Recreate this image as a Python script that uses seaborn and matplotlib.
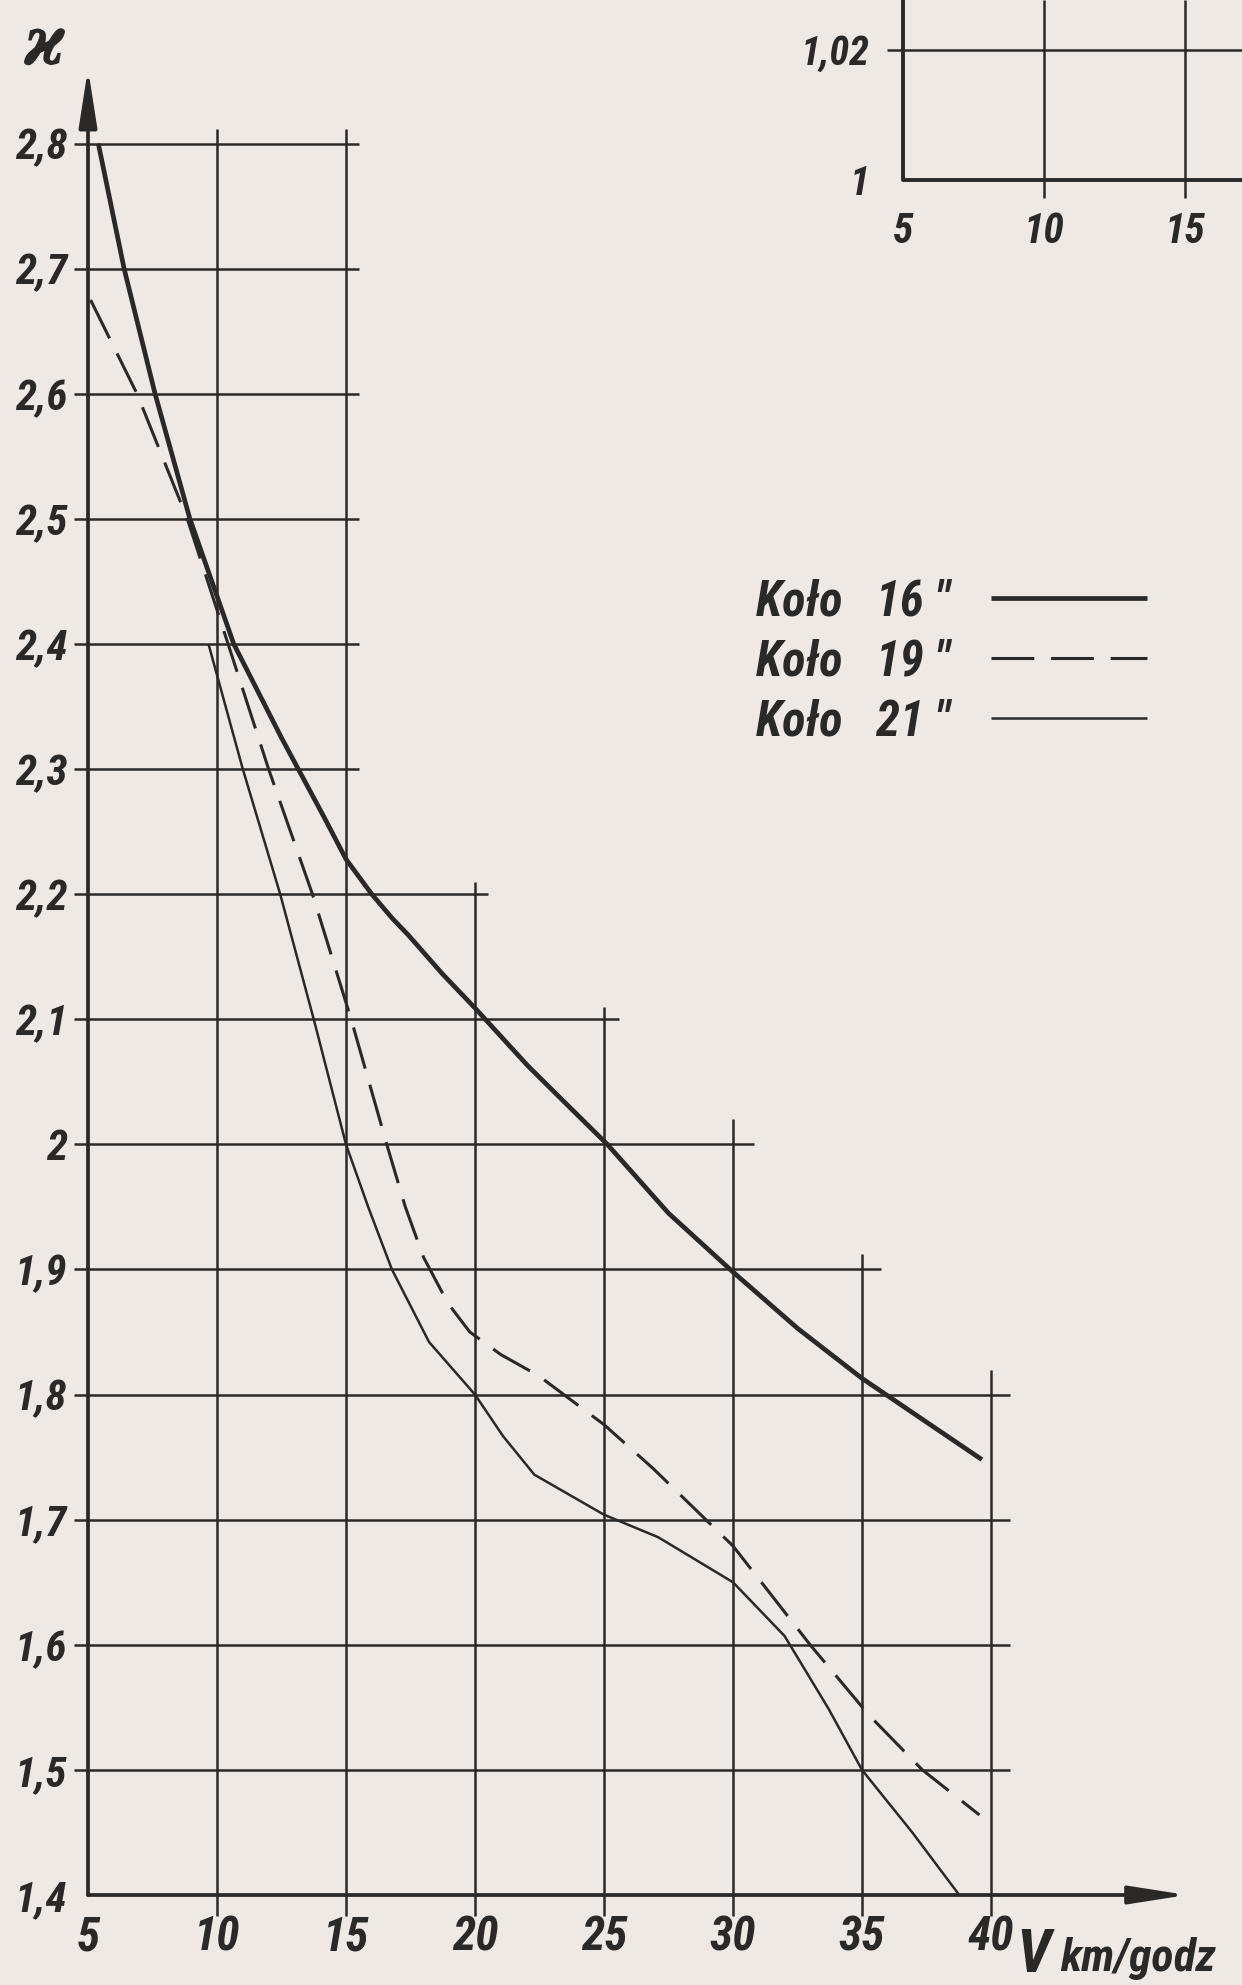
import matplotlib
matplotlib.use("Agg")
import matplotlib.pyplot as plt
import matplotlib.font_manager as fm
import pandas as pd
import seaborn as sns

# ---------------- data ----------------
v16 = [5.4, 6.4, 7.6, 8.95, 10.65, 12.5, 14.14, 15.0, 16.0, 16.78, 17.43, 18.75, 20.0,
       22.04, 23.36, 25.13, 27.5, 30.0, 32.5, 35.0, 37.5, 39.65]
k16 = [2.80, 2.70, 2.60, 2.50, 2.40, 2.325, 2.262, 2.228, 2.20, 2.181, 2.167, 2.136, 2.109,
       2.063, 2.036, 2.00, 1.945, 1.898, 1.853, 1.813, 1.778, 1.748]

v19 = [5.1, 6.9, 8.85, 10.43, 12.0, 13.7, 15.2, 16.58, 17.3, 18.0, 18.95, 19.8, 21.0,
       22.47, 25.0, 26.9, 28.95, 30.0, 31.1, 32.99, 35.26, 37.34, 39.55]
k19 = [2.675, 2.60, 2.50, 2.40, 2.30, 2.20, 2.10, 2.00, 1.95, 1.91, 1.873, 1.85, 1.832,
       1.815, 1.776, 1.741, 1.70, 1.679, 1.65, 1.60, 1.544, 1.50, 1.464]

v21 = [9.67, 11.0, 12.45, 13.75, 15.0, 15.86, 16.78, 18.22, 20.0, 21.08, 22.3,
       25.0, 27.1, 30.0, 32.0, 33.7, 35.0, 36.95, 38.77]
k21 = [2.40, 2.30, 2.20, 2.10, 2.00, 1.95, 1.90, 1.842, 1.80, 1.767, 1.736,
       1.704, 1.686, 1.65, 1.607, 1.549, 1.50, 1.45, 1.40]

series_labels = ['Koło   16 "', 'Koło   19 "', 'Koło   21 "']

x_ticks = [5, 10, 15, 20, 25, 30, 35, 40]
x_tick_labels = ["5", "10", "15", "20", "25", "30", "35", "40"]
y_ticks = [2.8, 2.7, 2.6, 2.5, 2.4, 2.3, 2.2, 2.1, 2.0, 1.9, 1.8, 1.7, 1.6, 1.5, 1.4]
y_tick_labels = ["2,8", "2,7", "2,6", "2,5", "2,4", "2,3", "2,2", "2,1", "2",
                 "1,9", "1,8", "1,7", "1,6", "1,5", "1,4"]

inset_x_ticks = [5, 10, 15]
inset_x_labels = ["5", "10", "15"]
inset_y_ticks = [1.0, 1.02]
inset_y_labels = ["1", "1,02"]

y_label = "ϰ"
x_label_main = "V"
x_label_unit = "km/godz"

# ---------------- style ----------------
sns.set_theme(style="white")
names = {f.name for f in fm.fontManager.ttflist}
FONT = next((n for n in ["Liberation Sans Narrow", "Roboto Condensed", "DejaVu Sans"]
             if n in names), "DejaVu Sans")
plt.rcParams["font.family"] = [FONT, "DejaVu Sans"]
plt.rcParams["font.style"] = "italic"
plt.rcParams["font.stretch"] = "condensed"
plt.rcParams["font.weight"] = "bold"

BG = "#efe9e6"
INK = "#2b2927"

W, H = 1242, 1985
fig = plt.figure(figsize=(W / 100, H / 100), dpi=100, facecolor=BG)

# main axes geometry (pixels of the reference)
X0, XS = 88, 25.8        # pixel of V=5, pixels per km/h
Y14, YS = 1895, 1251     # pixel of 1.4, pixels per unit
xlim = (5, 49.2)
ylim = (1.4, 2.87)
ax = fig.add_axes([X0 / W, (H - Y14) / H,
                   (xlim[1] - xlim[0]) * XS / W, (ylim[1] - ylim[0]) * YS / H])
ax.set_xlim(*xlim)
ax.set_ylim(*ylim)
ax.set_facecolor("none")
for sp in ax.spines.values():
    sp.set_visible(False)
ax.grid(False)

# staircase grid (layout of the drawing)
GRID_LW = 1.8
v_grid_x = [10, 15, 20, 25, 30, 35, 40]
v_grid_top = [2.812, 2.812, 2.21, 2.11, 2.02, 1.912, 1.82]
ax.vlines(v_grid_x, 1.4 - 0.017, v_grid_top, color=INK, lw=GRID_LW, clip_on=False)
h_grid_y = [2.8, 2.7, 2.6, 2.5, 2.4, 2.3, 2.2, 2.1, 2.0, 1.9, 1.8, 1.7, 1.6, 1.5]
h_grid_right = [15.5] * 6 + [20.5, 25.6, 30.8, 35.75] + [40.75] * 4
ax.hlines(h_grid_y, 5 - 0.55, h_grid_right, color=INK, lw=GRID_LW, clip_on=False)

# axes with arrows
arrow_kw = dict(arrowstyle="-|>,head_length=1.6,head_width=0.25", lw=2.7,
                color=INK, shrinkA=0, shrinkB=0, mutation_scale=22)
ax.annotate("", xy=(47.6, 1.4), xytext=(5, 1.4), arrowprops=arrow_kw,
            annotation_clip=False)
ax.annotate("", xy=(5, 2.86), xytext=(5, 1.4), arrowprops=arrow_kw,
            annotation_clip=False)

# curves
df = pd.concat([
    pd.DataFrame({"V": v16, "k": k16, "koło": series_labels[0]}),
    pd.DataFrame({"V": v19, "k": k19, "koło": series_labels[1]}),
    pd.DataFrame({"V": v21, "k": k21, "koło": series_labels[2]}),
])
styles = {
    series_labels[0]: dict(lw=3.4, ls="-"),
    series_labels[1]: dict(lw=2.2, ls=(0, (14, 5.5))),
    series_labels[2]: dict(lw=1.8, ls="-"),
}
handles = []
for lab in series_labels:
    sub = df[df["koło"] == lab]
    sns.lineplot(data=sub, x="V", y="k", ax=ax, color=INK, sort=False,
                 estimator=None, linewidth=styles[lab]["lw"],
                 linestyle=styles[lab]["ls"], solid_capstyle="butt",
                 solid_joinstyle="round", dash_capstyle="butt",
                 label=lab, legend=False)
    handles.append(ax.lines[-1])

# ticks and labels
ax.set_xticks(x_ticks, x_tick_labels)
ax.set_yticks(y_ticks, y_tick_labels)
ax.tick_params(axis="x", length=0, pad=14, labelsize=34, colors=INK)
ax.tick_params(axis="y", length=0, pad=15, labelsize=31, colors=INK)
ax.set_xlabel("")
ax.set_ylabel("")

leg = ax.legend(handles, series_labels, loc="upper left",
                bbox_to_anchor=(756 / W, 1 - 578 / H), bbox_transform=fig.transFigure,
                frameon=False, markerfirst=False, fontsize=35, handlelength=3.2,
                handletextpad=0.85, labelspacing=0.27, borderpad=0, borderaxespad=0)
for t in leg.get_texts():
    t.set_color(INK)

fig.text(44 / W, 1 - 46 / H, y_label, fontsize=50, fontweight="bold",
         family=["DejaVu Serif", "DejaVu Sans"], style="italic", color=INK,
         ha="center", va="center")
fig.text(1016 / W, 1 - 1955 / H, x_label_main, fontsize=44, fontweight="bold",
         color=INK, ha="left", va="center")
fig.text(1060 / W, 1 - 1958 / H, x_label_unit, fontsize=33, color=INK,
         ha="left", va="center")

# ---------------- inset (cut by the top-right edge) ----------------
IX0, IXS = 903, 28.2
IY1, IYS = 180, 6500.0
ix_lim = (5, 5 + (W - IX0) / IXS)
iy_lim = (1.0, 1.0 + IY1 / IYS)
ax2 = fig.add_axes([IX0 / W, (H - IY1) / H, (W - IX0) / W, IY1 / H])
ax2.set_xlim(*ix_lim)
ax2.set_ylim(*iy_lim)
ax2.set_facecolor("none")
for sp in ax2.spines.values():
    sp.set_visible(False)
ax2.grid(False)
ax2.plot([5, 5, ix_lim[1]], [iy_lim[1], 1.0, 1.0], color=INK, lw=2.8,
         solid_joinstyle="round", clip_on=False)
ax2.vlines([10, 15], 1.0 - 0.0027, iy_lim[1], color=INK, lw=GRID_LW, clip_on=False)
ax2.hlines([1.02], 5 - 0.55, ix_lim[1], color=INK, lw=GRID_LW, clip_on=False)
ax2.set_xticks(inset_x_ticks, inset_x_labels)
ax2.set_yticks(inset_y_ticks, inset_y_labels)
ax2.tick_params(axis="x", length=0, pad=22, labelsize=30, colors=INK)
ax2.tick_params(axis="y", length=0, pad=24, labelsize=29, colors=INK)

fig.savefig("out.png", dpi=100, facecolor=BG)
